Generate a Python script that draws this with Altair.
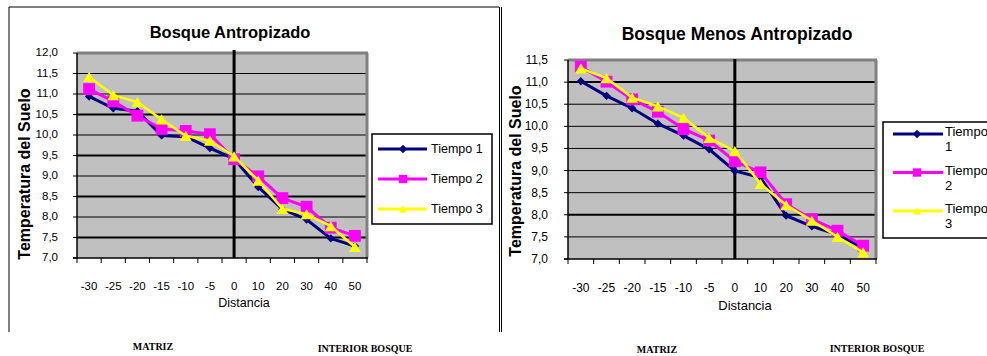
import altair as alt
import pandas as pd

W, H = 987, 356
FONT = "Liberation Sans"
SERIF = "Liberation Serif"

distancias = ["-30", "-25", "-20", "-15", "-10", "-5", "0", "10", "20", "30", "40", "50"]
series = ["Tiempo 1", "Tiempo 2", "Tiempo 3"]
colores = ["#000080", "#FF00FF", "#FFFF00"]
formas = ["diamond", "square", "triangle-up"]

# Bosque Antropizado
ant_t1 = [10.94, 10.65, 10.58, 9.99, 9.96, 9.68, 9.42, 8.73, 8.19, 7.94, 7.48, 7.29]
ant_t2 = [11.12, 10.82, 10.47, 10.15, 10.10, 10.02, 9.41, 8.99, 8.46, 8.25, 7.74, 7.54]
ant_t3 = [11.42, 10.97, 10.80, 10.38, 9.98, 9.86, 9.48, 8.89, 8.20, 8.07, 7.78, 7.27]
# Bosque Menos Antropizado
men_t1 = [11.02, 10.69, 10.41, 10.06, 9.79, 9.48, 8.99, 8.84, 7.98, 7.74, 7.55, 7.25]
men_t2 = [11.35, 11.01, 10.61, 10.33, 9.94, 9.68, 9.21, 8.96, 8.24, 7.90, 7.64, 7.30]
men_t3 = [11.31, 11.09, 10.65, 10.45, 10.19, 9.74, 9.44, 8.70, 8.22, 7.87, 7.50, 7.15]

ant_ticks = [7.0, 7.5, 8.0, 8.5, 9.0, 9.5, 10.0, 10.5, 11.0, 11.5, 12.0]
men_ticks = [7.0, 7.5, 8.0, 8.5, 9.0, 9.5, 10.0, 10.5, 11.0, 11.5]


def long_df(vals):
    rows = []
    for s, v in zip(series, vals):
        for d, t in zip(distancias, v):
            rows.append({"dist": d, "temp": t, "serie": s})
    return pd.DataFrame(rows)


one = pd.DataFrame({"k": [0]})


def txt(text, x, y, size, bold=False, font=FONT, angle=0, align="center"):
    return alt.Chart(one).mark_text(
        text=text, font=font, fontSize=size, fontWeight="bold" if bold else "normal",
        angle=angle, align=align, baseline="middle", color="black"
    ).encode(x=alt.value(x), y=alt.value(y))


def vrule(x, y0, y1, color="black", w=1):
    return alt.Chart(one).mark_rule(color=color, strokeWidth=w).encode(
        x=alt.value(x), y=alt.value(y0), y2=alt.value(y1))


def hrule(y, x0, x1, color="black", w=1):
    return alt.Chart(one).mark_rule(color=color, strokeWidth=w).encode(
        y=alt.value(y), x=alt.value(x0), x2=alt.value(x1))


def box(x0, x1, y0, y1, fill, stroke=None, sw=0):
    kw = dict(fill=fill, opacity=1)
    if stroke:
        kw.update(stroke=stroke, strokeWidth=sw)
    return alt.Chart(one).mark_rect(**kw).encode(
        x=alt.value(x0), x2=alt.value(x1), y=alt.value(y0), y2=alt.value(y1))


def panel(df, ticks, x0, x1, ytop, ybot, lab_fs, ylab_x, xlab_y, thick_test, vtop):
    xscale = alt.Scale(type="band", domain=distancias, range=[x0, x1],
                       paddingInner=0, paddingOuter=0)
    yscale = alt.Scale(domain=[ticks[0], ticks[-1]], range=[ybot, ytop], nice=False, zero=False)
    colorenc = alt.Color("serie:N", scale=alt.Scale(domain=series, range=colores), legend=None)
    shapeenc = alt.Shape("serie:N", scale=alt.Scale(domain=series, range=formas), legend=None)

    def X(bp=0.5):
        return alt.X("dist:O", scale=xscale, bandPosition=bp, axis=None)

    def Y(f):
        return alt.Y(f, scale=yscale, axis=None)

    tdf = pd.DataFrame({"v": ticks})
    ddf = pd.DataFrame({"dist": distancias})

    bg = box(x0, x1, ytop, ybot, "#C0C0C0")
    grid = alt.Chart(pd.DataFrame({"g": ticks[1:-1]})).mark_rule(color="black").encode(
        y=Y("g:Q"), x=alt.value(x0), x2=alt.value(x1),
        strokeWidth=alt.condition(thick_test, alt.value(2), alt.value(1)))
    top_b = hrule(ytop, x0, x1 + 1, "#808080", 3)
    right_b = vrule(x1, ytop, ybot, "#808080", 3)
    zero = alt.Chart(pd.DataFrame({"dist": [distancias[6]]})).mark_rule(
        color="black", strokeWidth=3).encode(x=X(), y=alt.value(vtop), y2=alt.value(ybot))

    # axes drawn by hand
    ydom = vrule(x0, ytop, ybot, "black", 1.5)
    xdom = hrule(ybot, x0 - 4, x1 + 1, "black", 1.5)
    ytk = alt.Chart(tdf).mark_rule(color="black").encode(
        y=Y("v:Q"), x=alt.value(x0 - 4), x2=alt.value(x0))
    ylab = alt.Chart(tdf).transform_calculate(
        lbl="replace(format(datum.v, '.1f'), '.', ',')"
    ).mark_text(align="right", baseline="middle", font=FONT, fontSize=lab_fs, color="black").encode(
        y=Y("v:Q"), x=alt.value(ylab_x), text="lbl:N")
    xtk = alt.Chart(ddf).mark_rule(color="black").encode(
        x=X(0), y=alt.value(ybot), y2=alt.value(ybot + 5))
    xtk_end = alt.Chart(pd.DataFrame({"dist": distancias[-1:]})).mark_rule(color="black").encode(
        x=X(1), y=alt.value(ybot), y2=alt.value(ybot + 5))
    xlab = alt.Chart(ddf).mark_text(align="center", baseline="middle", font=FONT, fontSize=lab_fs,
                                    color="black").encode(x=X(), y=alt.value(xlab_y), text="dist:N")

    lws = [3, 3, 2.5]
    sizes = [70, 140, 140]
    layers = [bg, grid, top_b, right_b, zero]
    for i, s in enumerate(series):
        base = alt.Chart(df).transform_filter(alt.datum.serie == s)
        line = base.mark_line(strokeWidth=lws[i]).encode(x=X(), y=Y("temp:Q"), color=colorenc)
        pts = base.mark_point(filled=True, opacity=1, size=sizes[i]).encode(
            x=X(), y=Y("temp:Q"), color=colorenc, shape=shapeenc)
        layers += [line, pts]
    layers += [ydom, xdom, ytk, ylab, xtk, xtk_end, xlab]
    return alt.layer(*layers)


def legend(bx0, bx1, by0, by1, lx0, lx1, mx, tx, yrange, fs, multiline):
    base = alt.Chart(pd.DataFrame({"serie": series}))
    yenc = alt.Y("serie:N", scale=alt.Scale(type="point", domain=series, range=yrange, padding=0),
                 axis=None)
    colorenc = alt.Color("serie:N", scale=alt.Scale(domain=series, range=colores), legend=None)
    shapeenc = alt.Shape("serie:N", scale=alt.Scale(domain=series, range=formas), legend=None)
    frame = box(bx0, bx1, by0, by1, "white", "black", 1.5)
    rule = base.mark_rule(strokeWidth=3).encode(
        x=alt.value(lx0), x2=alt.value(lx1), y=yenc, color=colorenc)
    pts = base.mark_point(filled=True, opacity=1, size=70).encode(
        x=alt.value(mx), y=yenc, color=colorenc, shape=shapeenc)
    if multiline:
        t = base.mark_text(font=FONT, fontSize=fs, align="left", baseline="top", dy=-8,
                           lineBreak=" ", lineHeight=15, color="black").encode(
            x=alt.value(tx), y=yenc, text="serie:N")
    else:
        t = base.mark_text(font=FONT, fontSize=fs, align="left", baseline="middle",
                           color="black").encode(x=alt.value(tx), y=yenc, text="serie:N")
    return alt.layer(frame, rule, pts, t)


left = panel(long_df([ant_t1, ant_t2, ant_t3]), ant_ticks, 77, 367, 53, 258, 11.5, 58, 287,
             "datum.g % 1 == 0.5 && datum.g < 11", 50)
right = panel(long_df([men_t1, men_t2, men_t3]), men_ticks, 568, 876, 60, 259, 12, 548, 288,
              "datum.g == 11 || datum.g == 8", 59)

left_leg = legend(372, 492, 134, 224, 378, 427, 403, 431, [149, 209], 12.5, False)
right_leg = legend(883, 1000, 122, 238, 893, 943, 917, 945, [134, 211], 13, True)

deco = [
    hrule(7, 9, 499), vrule(9, 7, 332), vrule(499.5, 7, 332), vrule(501.5, 7, 332),
    txt("Bosque Antropizado", 230, 33, 16.5, bold=True),
    txt("Bosque Menos Antropizado", 737, 35, 17.5, bold=True),
    txt("Temperatura del Suelo", 25, 174, 16, bold=True, angle=270),
    txt("Temperatura del Suelo", 516, 171, 16, bold=True, angle=270),
    txt("Distancia", 244, 303, 12.5),
    txt("Distancia", 745, 306, 13),
    txt("MATRIZ", 153, 347, 10, bold=True, font=SERIF),
    txt("INTERIOR BOSQUE", 365, 349, 10, bold=True, font=SERIF),
    txt("MATRIZ", 657, 350, 10, bold=True, font=SERIF),
    txt("INTERIOR BOSQUE", 877, 349, 10, bold=True, font=SERIF),
]

chart = alt.layer(
    *deco, left, left_leg, right, right_leg
).resolve_scale(
    x="independent", y="independent", color="independent", shape="independent"
).properties(
    width=W, height=H, padding=0, autosize=alt.AutoSizeParams(type="none")
).configure_view(strokeWidth=0)

chart.save("out.html", embed_options={"renderer": "svg", "actions": False})
